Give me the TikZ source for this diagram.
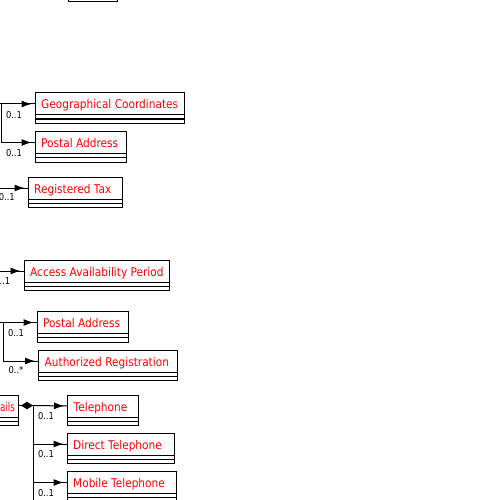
\documentclass[tikz,border=0pt]{standalone}
\usepackage{fontspec}
\setmainfont{DejaVu Sans}[FakeStretch=0.88]
\usetikzlibrary{calc,arrows.meta,decorations.markings}
\definecolor{clsred}{RGB}{255,0,0}
\tikzset{
  clsbox/.style={draw, line width=1pt, inner sep=0pt, outer sep=0pt, anchor=north west, minimum height=30.5pt},
  clstxt/.style={text=clsred, font=\fontsize{12}{14}\selectfont, inner sep=0pt, anchor=base west},
  cmp/.style={line width=1pt},
  assoc/.style={line width=1pt, postaction={decorate},
    decoration={markings, mark=at position -3.5pt with {\arrow{Latex[length=10pt,width=7pt]}}}},
  plainline/.style={line width=1pt},
  comp/.style={line width=1pt, postaction={decorate},
    decoration={markings, mark=at position 15pt with {\arrow{Diamond[length=12pt,width=7.5pt]}}}},
  mult/.style={font=\fontsize{9.5}{10}\selectfont, text=black, inner sep=0pt},
}
\newcommand\umlclass[5]{%
  \node[clsbox, minimum width=#4pt] (#1) at (#2,#3) {};
  \node[clstxt] (#1-t) at ($(#1.north west)+(6,16)$) {#5};
  \draw[cmp] ($(#1.north west)+(0,22)$) -- ($(#1.north east)+(0,22)$);
  \draw[cmp] ($(#1.north west)+(0,26)$) -- ($(#1.north east)+(0,26)$);
  \coordinate (#1-in) at ($(#1.north west)+(0,11)$);
  \coordinate (#1-out) at ($(#1.north east)+(0,11)$);
}
\begin{document}
\begin{tikzpicture}[x=1pt,y=-1pt]
\useasboundingbox (0,0) rectangle (500,500);
\clip (0,0) rectangle (500,500);
% top class (cut by the page edge)
\node[clsbox, anchor=south west, minimum width=49.5pt] (topcls) at (68,2) {};
% classes
\umlclass{geo}{35}{93}{149}{Geographical Coordinates}
\umlclass{pa1}{35}{131.5}{91}{Postal Address}
\umlclass{tax}{28}{177}{94.5}{Registered Tax}
\umlclass{acc}{24}{260}{145}{Access Availability Period}
\umlclass{pa2}{37}{311.5}{91}{Postal Address}
\umlclass{auth}{38.5}{350}{139}{Authorized Registration}
\umlclass{tel}{67.5}{395}{70.5}{Telephone}
\umlclass{dtel}{67}{433}{107}{Direct Telephone}
\umlclass{mtel}{67}{471.5}{109}{Mobile Telephone}
% contact class cut by the left edge
\node[clsbox, minimum width=78pt] (ails) at (-60,395) {};
\node[clstxt, anchor=base east, xscale=0.82] (ails-t) at (15,411) {ails};
\draw[cmp] ($(ails.north west)+(0,22)$) -- ($(ails.north east)+(0,22)$);
\draw[cmp] ($(ails.north west)+(0,26)$) -- ($(ails.north east)+(0,26)$);
\coordinate (ails-out) at ($(ails.north east)+(0,10.5)$);
% connectors
\coordinate (s1) at (-5,104);
\coordinate (j1) at (1.5,104);
\draw[assoc] (s1) -- (geo-in);
\draw[assoc] (j1) |- (pa1-in);
\node[mult] (m1) at (14,115) {0..1};
\node[mult] (m2) at (14,153) {0..1};
\coordinate (s3) at (-5,188);
\draw[assoc] (s3) -- (tax-in);
\node[mult, anchor=east] (m3) at (15,197.5) {0..1};
\coordinate (s4) at (-5,271);
\draw[assoc] (s4) -- (acc-in);
\node[mult, anchor=east] (m4) at (10.5,281) {..1};
\coordinate (s2) at (-5,322.5);
\coordinate (j2) at (3.5,322.5);
\draw[assoc] (s2) -- (pa2-in);
\draw[assoc] (j2) |- (auth-in);
\node[mult] (m5) at (16,333) {0..1};
\node[mult] (m6) at (16,370.5) {0..*};
\coordinate (j5) at (33.5,405.5);
\coordinate (jend) at (33.5,510);
\draw[comp] (ails-out) -- (j5);
\draw[plainline] (j5) -- (jend);
\draw[assoc] (j5) -- (tel-in);
\draw[assoc] (j5) |- (dtel-in);
\draw[assoc] (j5) |- (mtel-in);
\node[mult] (m7) at (46,416) {0..1};
\node[mult] (m8) at (46,454) {0..1};
\node[mult] (m9) at (46,493) {0..1};
\end{tikzpicture}
\end{document}
